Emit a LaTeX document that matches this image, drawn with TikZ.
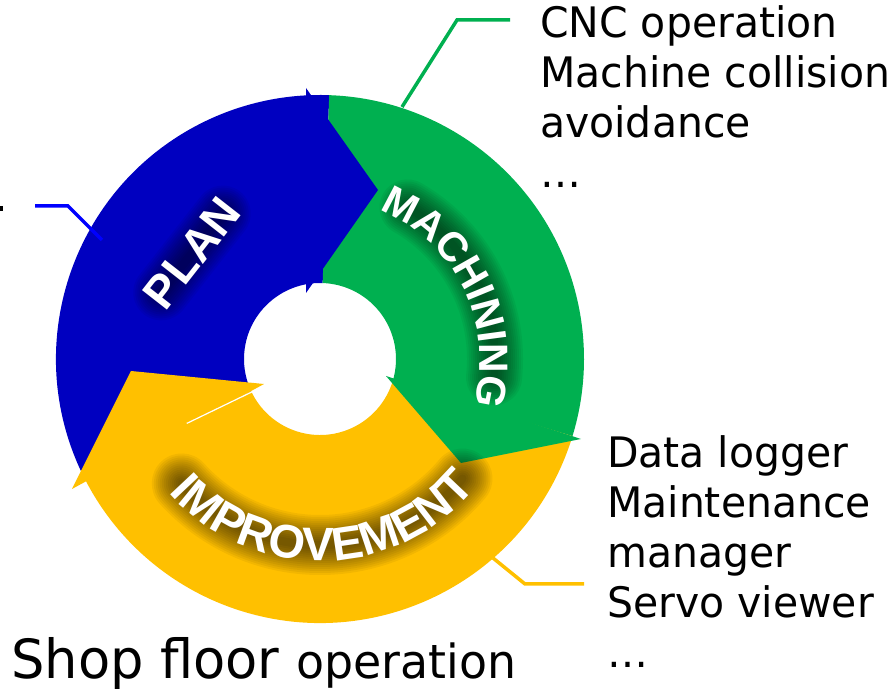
\documentclass[tikz,border=0pt]{standalone}
\usepackage{fontspec}
\setmainfont{DejaVu Sans}
\newfontfamily\labfont[FakeStretch=0.975]{DejaVu Sans}
\newfontfamily\wafont{Liberation Sans}
\usetikzlibrary{decorations.text}
\definecolor{cblue}{RGB}{0,0,192}
\definecolor{cgreen}{RGB}{0,176,80}
\definecolor{cyellow}{RGB}{255,192,0}
\definecolor{lblue}{RGB}{0,0,255}
\newcommand\machfont{\wafont\bfseries\fontsize{41}{41}\selectfont}
\newcommand\imprfont{\wafont\bfseries\fontsize{47}{47}\selectfont}
\newcommand\planfont{\wafont\bfseries\fontsize{46}{46}\selectfont}
\begin{document}
\begin{tikzpicture}[x=1pt,y=1pt,
  leader/.style={line width=3.5pt},
  glowline/.style={black, line cap=round, opacity=0.052},
  blk/.style={inner sep=0pt, anchor=base west, align=left, font=\labfont\fontsize{42}{50}\selectfont}]
\useasboundingbox (0,0) rectangle (894,688);
\begin{scope}[shift={(320,329)}]
  % ring bodies
  \fill[cblue] (205:264pt) arc[start angle=205,end angle=88,radius=264pt] -- (88:76pt) arc[start angle=88,end angle=205,radius=76pt] -- cycle;
  \fill[cgreen] (88:264pt) arc[start angle=88,end angle=-17,radius=264pt] -- (-17:76pt) arc[start angle=-17,end angle=88,radius=76pt] -- cycle;
  \fill[cyellow] (-17:264pt) arc[start angle=-17,end angle=-155,radius=264pt] -- (-155:76pt) arc[start angle=-155,end angle=-17,radius=76pt] -- cycle;
  % arrow heads
  \fill[cblue] (-14,271) -- (58,169) -- (-14,66) -- cycle;
  \fill[cgreen] (261,-80) -- (141,-104) -- (66,-17) -- cycle;
  \fill[cyellow] (-248,-130) -- (-189,-12) -- (-56,-25) -- cycle;
  \draw[white, line width=1.2pt] (205.8:74pt) -- (205.8:148pt);
  % glows
  \begin{scope}[shift={(-128,106)}, rotate=52]
    \foreach \w in {8,12,...,56} \draw[glowline, line width=\w pt] (-50,0) -- (50,0);
  \end{scope}
  \foreach \w in {8,12,...,56} \draw[glowline, line width=\w pt] (60:175pt) arc[start angle=60,end angle=-6,radius=175pt];
  \foreach \w in {8,12,...,60} \draw[glowline, line width=\w pt] (222:186pt) arc[start angle=222,end angle=320,radius=186pt];
  % words
  \node[text=white, font=\planfont, rotate=52, inner sep=0pt] (plan) at (-128,106) {PLAN};
  \path[decorate, decoration={text along path, text={|\machfont|MACHINING}, text align=center, text color=white}]
    (68:160pt) arc[start angle=68,end angle=-16,radius=160pt];
  \path[decorate, decoration={text along path, text={|\imprfont|IMPROVEMENT}, text align=center, text color=white}]
    (206:202pt) arc[start angle=206,end angle=336,radius=202pt];
\end{scope}
% leader lines
\coordinate (g0) at (402,581); \coordinate (g1) at (457,668); \coordinate (g2) at (510,668);
\coordinate (b0) at (102,448); \coordinate (b1) at (68,482); \coordinate (b2) at (35,482);
\coordinate (y0) at (493,130); \coordinate (y1) at (525,104); \coordinate (y2) at (584,104);
\draw[leader, cgreen] (g0) -- (g1) -- (g2);
\draw[leader, lblue] (b0) -- (b1) -- (b2);
\draw[leader, cyellow] (y0) -- (y1) -- (y2);
\fill[black] (0,477) rectangle (3,482);
% labels (anchor at the baseline of the last line)
\node[blk] (cnc) at (540,500) {CNC operation\\Machine collision\\avoidance\\…};
\node[blk] (data) at (607,20) {Data logger\\Maintenance\\manager\\Servo viewer\\…};
\node[inner sep=0pt, anchor=base west] (shop) at (11,10) {\labfont\fontsize{54}{54}\selectfont Shop floor \fontsize{47}{47}\selectfont operation};
\end{tikzpicture}
\end{document}
